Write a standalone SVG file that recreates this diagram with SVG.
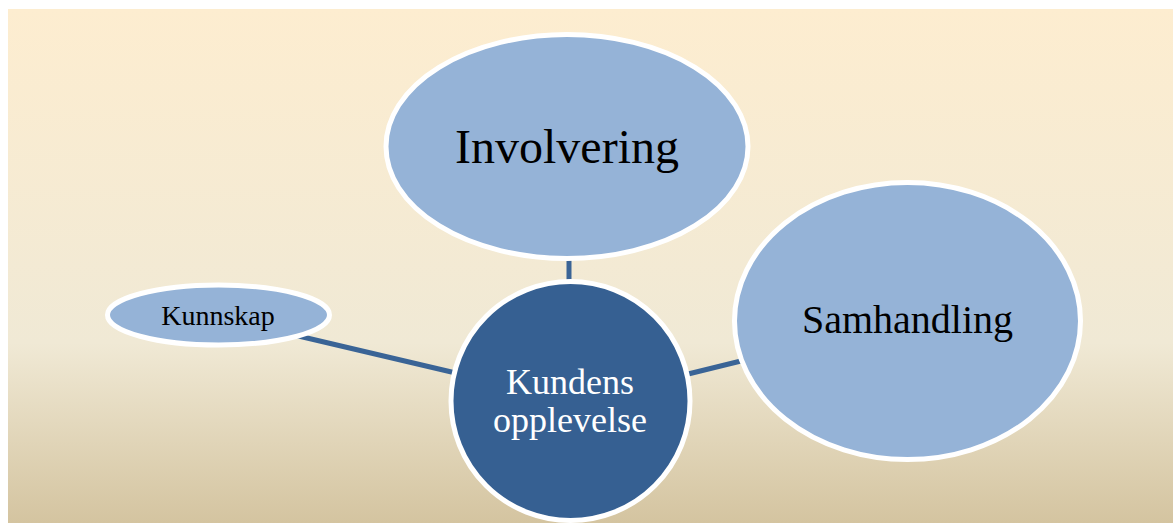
<svg xmlns="http://www.w3.org/2000/svg" width="1173" height="523" viewBox="0 0 1173 523">
  <defs>
    <linearGradient id="bg" x1="0" y1="0" x2="0" y2="1">
      <stop offset="0" stop-color="#fdedd0"/>
      <stop offset="0.65" stop-color="#f0e9d5"/>
      <stop offset="1" stop-color="#d4c4a0"/>
    </linearGradient>
  </defs>
  <style>
    .light { fill: #95b3d7; stroke: #ffffff; stroke-width: 5; }
    .dark { fill: #366092; stroke: #ffffff; stroke-width: 5; }
    .conn { stroke: #3a6496; stroke-width: 5; fill: none; }
    .t { font-family: "Liberation Serif", "Times New Roman", serif; text-anchor: middle; }
  </style>
  <rect x="0" y="0" width="1173" height="523" fill="#ffffff"/>
  <rect x="8" y="9" width="1165" height="514" fill="url(#bg)"/>
  <g id="connectors">
    <line class="conn" x1="569" y1="255" x2="569" y2="290"/>
    <line class="conn" x1="290" y1="334" x2="460" y2="374"/>
    <line class="conn" x1="680" y1="376" x2="745" y2="360"/>
  </g>
  <g id="node-involvering">
    <ellipse class="light" cx="567" cy="146.5" rx="181" ry="112"/>
    <text class="t" x="567" y="163" font-size="48" fill="#000000">Involvering</text>
  </g>
  <g id="node-samhandling">
    <ellipse class="light" cx="907.5" cy="321" rx="173" ry="138.5"/>
    <text class="t" x="907.5" y="333" font-size="40" fill="#000000">Samhandling</text>
  </g>
  <g id="node-kunnskap">
    <ellipse class="light" cx="218.5" cy="315" rx="111" ry="30" stroke-width="4"/>
    <text class="t" x="218" y="325" font-size="28" fill="#000000">Kunnskap</text>
  </g>
  <g id="node-kundens">
    <circle class="dark" cx="570.5" cy="401" r="119.5"/>
    <text class="t" x="570" y="394" font-size="36" fill="#ffffff">Kundens</text>
    <text class="t" x="570" y="432" font-size="36" fill="#ffffff">opplevelse</text>
  </g>
</svg>
